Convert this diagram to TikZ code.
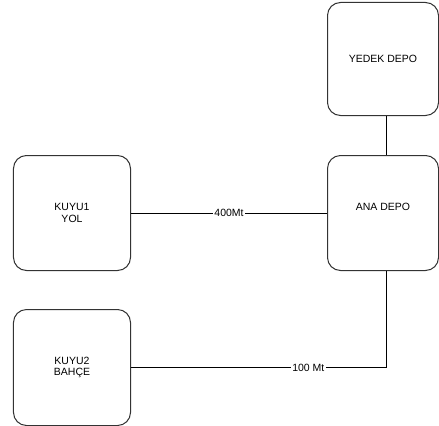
\documentclass[tikz,border=0pt]{standalone}
\usepackage{fontspec}
\setmainfont{Liberation Sans}
\usetikzlibrary{positioning}

\begin{document}
\begin{tikzpicture}[
    x=1bp, y=1bp,
    every node/.style={font=\fontsize{10.5bp}{11.5bp}\selectfont, align=center},
    tank/.style={draw=black!80, line width=1bp, rounded corners=13bp, minimum width=117bp, minimum height=115bp, inner sep=0pt},
    pipe/.style={draw, line width=1bp},
    dist/.style={fill=white, inner sep=1.5bp}
]
\useasboundingbox (0,0) rectangle (439,425);

\node[tank, minimum width=111bp, text depth=13bp] (ana) at (383,212) {ANA DEPO};
\node[tank, minimum width=111bp, minimum height=113bp, above=39bp of ana] (yedek) {YEDEK DEPO};
\node[tank] (kuyu1) at (72,212) {KUYU1\\YOL};
\node[tank, minimum height=116bp, below=38bp of kuyu1] (kuyu2) {KUYU2\\BAHÇE};

\draw[pipe] ([xshift=3.5bp]yedek.south) -- ([xshift=3.5bp]ana.north);
\draw[pipe] (kuyu1) -- node[dist]{400Mt} (ana);
\draw[pipe] ([xshift=3.5bp]ana.south) |- node[dist, pos=0.653]{100 Mt} (kuyu2.east);

\end{tikzpicture}
\end{document}
